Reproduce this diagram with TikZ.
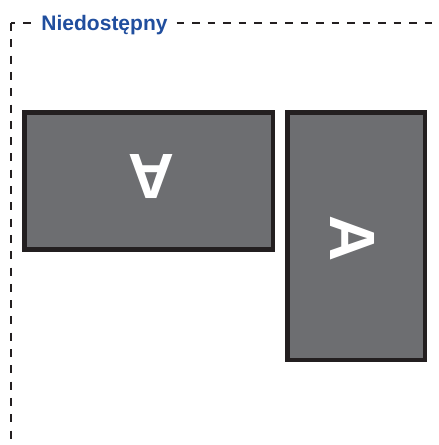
\documentclass[tikz,border=0pt]{standalone}
\usepackage{fontspec}
\setmainfont{Liberation Sans}
\definecolor{panelgray}{HTML}{6D6E71}
\definecolor{panelborder}{HTML}{231F20}
\definecolor{labelblue}{RGB}{32,78,158}
\tikzset{
    panel/.style={fill=panelgray, draw=panelborder, line width=4.5pt},
    frameleft/.style={draw=panelborder, line width=2pt, dash pattern=on 8pt off 8.3pt},
    frametop/.style={draw=panelborder, line width=2pt, dash pattern=on 7.5pt off 8pt},
    letter/.style={text=white, inner sep=0pt, font=\fontsize{64}{64}\selectfont\bfseries},
}
\begin{document}
\begin{tikzpicture}[x=1pt, y=-1pt]
            \useasboundingbox (0,0) rectangle (439,445);
            \def\leftpanel{(24.25,112.25) coordinate (p) rectangle (272.75,249.5)}
            \def\rightpanel{(287.25,112.25) coordinate (q) rectangle (424.75,359.75)}
            \coordinate (corner) at (11,23);
            \node (label) [anchor=base, inner xsep=7pt, text=labelblue,
                font=\fontsize{21}{21}\selectfont\bfseries] at (104.5,30) {Niedostępny};
            % dashed frame, broken by the label
            \draw[frameleft] (corner) -- (11,445);
            \draw[frametop, dash phase=3.5pt] (corner) -- (corner -| label.west);
            \draw[frametop, dash phase=13.5pt] (corner -| label.east) -- (439,23);
            \draw[panel] \leftpanel;
            \draw[panel] \rightpanel;
            \node (a1) [letter, rotate=180] at (151,177) {A};
            \node (a2) [letter, rotate=-90] at (353,238.5) {A};
        \end{tikzpicture}
\end{document}
